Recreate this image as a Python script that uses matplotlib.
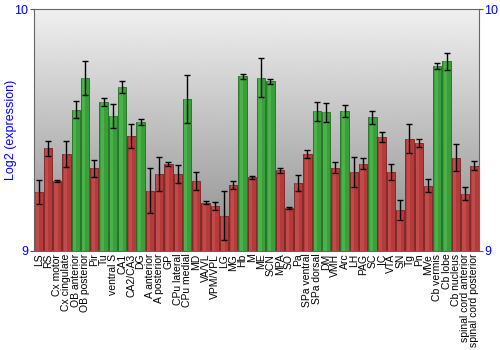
import numpy as np
import matplotlib
matplotlib.use('Agg')
import matplotlib.pyplot as plt

labels = ['LS', 'RS', 'Cx motor', 'Cx cingulate', 'OB anterior', 'OB posterior', 'Pir', 'Tu',
          'ventral S', 'CA1', 'CA2/CA3', 'DG', 'A anterior', 'A posterior', 'GP', 'CPu lateral',
          'CPu medial', 'MD', 'VA/VL', 'VPM/VPL', 'LG', 'MG', 'Hb', 'M', 'ME', 'SCN', 'MPA', 'SO',
          'Pa', 'SPa ventral', 'SPa dorsal', 'DM', 'VMH', 'Arc', 'LH', 'PAG', 'SC', 'IC', 'VTA',
          'SN', 'Tg', 'Pn', 'MVe', 'Cb vermis', 'Cb lobe', 'Cb nucleus', 'spinal cord anterior',
          'spinal cord posterior']
values = [9.245, 9.424, 9.290, 9.401, 9.583, 9.714, 9.342, 9.616,
          9.558, 9.679, 9.475, 9.534, 9.249, 9.318, 9.358, 9.319,
          9.628, 9.290, 9.200, 9.186, 9.146, 9.273, 9.723, 9.304, 9.716, 9.702, 9.333, 9.179,
          9.281, 9.401, 9.577, 9.573, 9.344, 9.579, 9.325, 9.360, 9.552, 9.471, 9.326,
          9.168, 9.463, 9.446, 9.270, 9.764, 9.785, 9.386, 9.237,
          9.353]
errors = [0.05, 0.03, 0.003, 0.055, 0.035, 0.07, 0.035, 0.015,
          0.048, 0.025, 0.05, 0.013, 0.094, 0.07, 0.008, 0.036,
          0.1, 0.038, 0.005, 0.016, 0.1, 0.016, 0.01, 0.007, 0.08, 0.01, 0.012, 0.004,
          0.032, 0.016, 0.04, 0.04, 0.023, 0.025, 0.062, 0.023, 0.026, 0.02, 0.034,
          0.041, 0.06, 0.015, 0.028, 0.012, 0.035, 0.056, 0.026,
          0.017]
green = ['OB anterior', 'OB posterior', 'Tu', 'ventral S', 'CA1', 'DG', 'CPu medial', 'Hb',
         'ME', 'SCN', 'SPa dorsal', 'DM', 'Arc', 'SC', 'Cb vermis', 'Cb lobe']

plt.rcParams['font.family'] = ['Liberation Sans', 'DejaVu Sans']

fig = plt.figure(figsize=(5, 3.5), dpi=100)
ax = fig.add_axes([0.068, 0.283, 0.89, 0.691])

# grey gradient background
grad = np.linspace(0.55, 0.94, 256).reshape(-1, 1)
ax.imshow(grad, cmap='gray', vmin=0, vmax=1, aspect='auto',
          extent=[-0.5, len(labels) - 0.5, 9, 10], origin='lower', zorder=0)

x = np.arange(len(labels))
cols = ['#3a9e3a' if l in green else '#b53a3a' for l in labels]
edges = ['#1f6e1f' if l in green else '#7a2020' for l in labels]
ax.bar(x, np.array(values) - 9, bottom=9, width=0.9, color=cols, edgecolor=edges,
       linewidth=0.6, zorder=2)
# highlight strip for a bit of shading
hl = ['#55c055' if l in green else '#cc5555' for l in labels]
ax.bar(x - 0.12, np.array(values) - 9, bottom=9, width=0.35, color=hl, linewidth=0,
       alpha=0.6, zorder=3)
ax.errorbar(x, values, yerr=errors, fmt='none', ecolor='black', elinewidth=1,
            capsize=2, capthick=1, zorder=4)

ax.set_xlim(-0.5, len(labels) - 0.5)
ax.set_ylim(9, 10)
ax.set_yticks([9, 10])
ax.set_yticklabels(['9', '10'], color='blue', fontsize=9)
ax.tick_params(axis='y', which='both', left=True, right=True, labelright=True,
               length=3, color='#555555', pad=1)
ax.set_xticks(x)
ax.set_xticklabels(labels, rotation=90, fontsize=7.5)
ax.tick_params(axis='x', length=0, pad=2)
ax.set_ylabel('Log2 (expression)', color='blue', fontsize=9, labelpad=-2)
for s in ax.spines.values():
    s.set_color('#666666')

fig.savefig('out.png', dpi=100)
